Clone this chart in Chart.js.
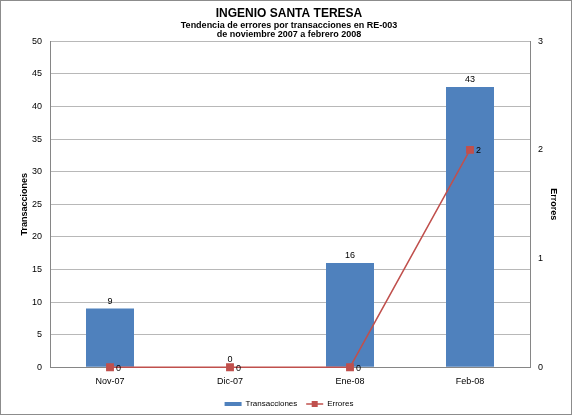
<!DOCTYPE html>
<html>
<head>
<meta charset="utf-8">
<script src="https://cdn.jsdelivr.net/npm/chart.js@4.4.0/dist/chart.umd.min.js"></script>
<style>
  html, body { margin: 0; padding: 0; background: #fff; }
  #wrap { width: 570px; height: 413px; border: 1px solid #8c8c8c; }
</style>
</head>
<body>
<div id="wrap"><canvas id="chart" width="570" height="413"></canvas></div>
<script>
// values
const categories = ['Nov-07', 'Dic-07', 'Ene-08', 'Feb-08'];
const transacciones = [9, 0, 16, 43];
const errores = [0, 0, 0, 2];
const leftTicks = [0, 5, 10, 15, 20, 25, 30, 35, 40, 45, 50];
const rightTicks = [0, 1, 2, 3];

const FONT = "'Liberation Sans', Arial, sans-serif";
const BLUE = '#4F81BD';
const RED = '#C0504D';

// value labels: above bars, right of line points
const valueLabels = {
    id: 'valueLabels',
    afterDatasetsDraw(chart) {
        const ctx = chart.ctx;
        ctx.save();
        ctx.font = '9px ' + FONT;
        ctx.fillStyle = '#000';
        chart.getDatasetMeta(0).data.forEach((bar, i) => {
            ctx.textAlign = 'center';
            ctx.textBaseline = 'bottom';
            ctx.fillText(transacciones[i], bar.x, bar.y - 3);
        });
        chart.getDatasetMeta(1).data.forEach((pt, i) => {
            ctx.textAlign = 'left';
            ctx.textBaseline = 'middle';
            ctx.fillText(errores[i], pt.x + 6, pt.y + 1);
        });
        ctx.restore();
    }
};

// legend symbol for the line series: line with a square marker
const lineLegendMark = {
    id: 'lineLegendMark',
    afterDraw(chart) {
        const hb = chart.legend && chart.legend.legendHitBoxes[1];
        if (!hb) return;
        const ctx = chart.ctx;
        const bw = chart.options.plugins.legend.labels.boxWidth;
        const cy = hb.top + hb.height / 2;
        ctx.save();
        ctx.strokeStyle = RED;
        ctx.lineWidth = 1.5;
        ctx.beginPath();
        ctx.moveTo(hb.left, cy);
        ctx.lineTo(hb.left + bw, cy);
        ctx.stroke();
        ctx.fillStyle = RED;
        ctx.fillRect(hb.left + bw / 2 - 3, cy - 3, 6, 6);
        ctx.restore();
    }
};

new Chart(document.getElementById('chart').getContext('2d'), {
    data: {
        labels: categories,
        datasets: [
            {
                type: 'bar',
                label: 'Transacciones',
                data: transacciones,
                backgroundColor: BLUE,
                yAxisID: 'y',
                categoryPercentage: 1,
                barPercentage: 0.4,
                order: 2
            },
            {
                type: 'line',
                label: 'Errores',
                data: errores,
                borderColor: RED,
                backgroundColor: RED,
                borderWidth: 1.5,
                pointStyle: 'rect',
                pointRadius: 4.5,
                clip: false,
                yAxisID: 'y1',
                order: 1
            }
        ]
    },
    options: {
        responsive: false,
        animation: false,
        devicePixelRatio: 1,
        layout: { padding: { left: 18, right: 12, top: 0, bottom: -4 } },
        plugins: {
            title: {
                display: true,
                text: 'INGENIO SANTA TERESA',
                color: '#000',
                font: { family: FONT, size: 12, weight: 'bold' },
                padding: { top: 5, bottom: 0 }
            },
            subtitle: {
                display: true,
                text: ['Tendencia de errores por transacciones en RE-003', 'de noviembre 2007 a febrero 2008'],
                color: '#000',
                font: { family: FONT, size: 9, weight: 'bold', lineHeight: 1.05 },
                padding: { top: 0, bottom: 2 }
            },
            legend: {
                position: 'bottom',
                labels: {
                    color: '#000',
                    font: { family: FONT, size: 8 },
                    boxWidth: 17,
                    boxHeight: 4,
                    padding: 0,
                    generateLabels(chart) {
                        return [
                            { text: 'Transacciones    ', fillStyle: BLUE, strokeStyle: BLUE, lineWidth: 0, datasetIndex: 0 },
                            { text: 'Errores', fillStyle: 'rgba(0,0,0,0)', strokeStyle: 'rgba(0,0,0,0)', lineWidth: 0, datasetIndex: 1 }
                        ];
                    }
                }
            },
            tooltip: { enabled: false }
        },
        scales: {
            x: {
                afterFit(axis) { axis.height += 4; },
                grid: { display: false, drawTicks: false },
                border: { color: '#868686' },
                ticks: { color: '#000', font: { family: FONT, size: 9 }, padding: 9 }
            },
            y: {
                position: 'left',
                min: 0,
                max: 50,
                afterBuildTicks(axis) { axis.ticks = leftTicks.map(v => ({ value: v })); },
                afterFit(axis) { axis.width = 31; },
                grid: { color: '#b8b8b8', drawTicks: false },
                border: { color: '#868686' },
                ticks: { color: '#000', font: { family: FONT, size: 9 }, padding: 8 },
                title: {
                    display: true,
                    text: 'Transacciones',
                    color: '#000',
                    font: { family: FONT, size: 9, weight: 'bold' },
                    padding: 0
                }
            },
            y1: {
                position: 'right',
                min: 0,
                max: 3,
                afterBuildTicks(axis) { axis.ticks = rightTicks.map(v => ({ value: v })); },
                afterFit(axis) { axis.width = 29; },
                grid: { display: false, drawOnChartArea: false, tickLength: 3 },
                border: { color: '#868686' },
                ticks: { color: '#000', font: { family: FONT, size: 9 }, padding: 5 },
                title: {
                    display: true,
                    text: 'Errores',
                    color: '#000',
                    font: { family: FONT, size: 9, weight: 'bold' },
                    padding: 0
                }
            }
        }
    },
    plugins: [valueLabels, lineLegendMark]
});
</script>
</body>
</html>
